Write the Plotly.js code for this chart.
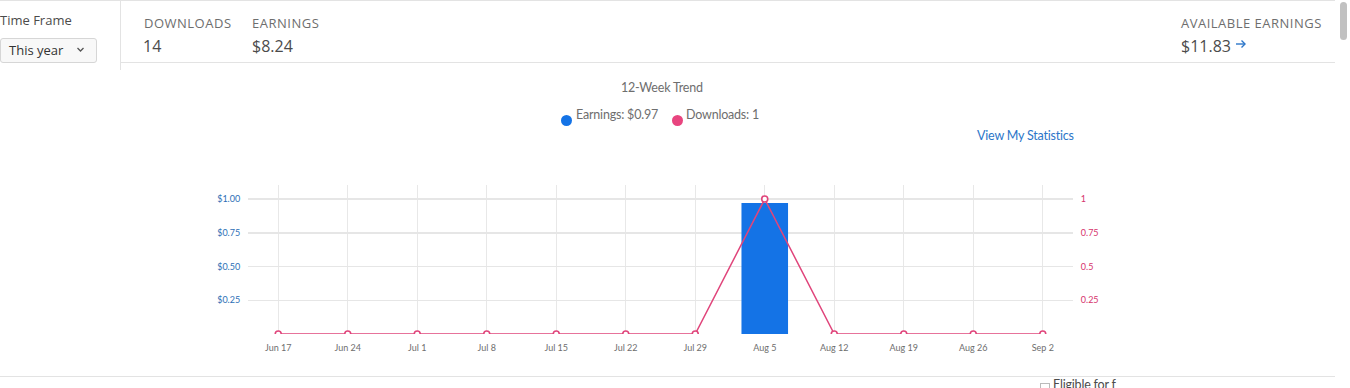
<!DOCTYPE html>
<html>
<head>
<meta charset="utf-8">
<script src="https://cdn.plot.ly/plotly-3.0.1.min.js"></script>
<style>
  html,body{margin:0;padding:0;background:#fff;width:1350px;height:388px;overflow:hidden;font-family:"Open Sans",sans-serif;}
  .abs{position:absolute;white-space:nowrap;}
  .hdr{font-size:13px;color:#6e6e6e;letter-spacing:0.5px;}
  .val{font-size:16px;color:#4b4b4b;}
  .lbl{font-family:Lato,sans-serif;font-size:12.5px;letter-spacing:-0.2px;}
</style>
</head>
<body>
<div class="abs" style="left:0;top:0;width:1335px;height:1px;background:#e3e3e3;"></div>
<div class="abs" style="left:120px;top:0;width:1px;height:70px;background:#e3e3e3;"></div>
<div class="abs" style="left:120px;top:62px;width:1215px;height:1px;background:#e3e3e3;"></div>
<div class="abs" style="left:0;top:376px;width:1335px;height:1px;background:#e3e3e3;"></div>

<div class="abs" style="left:0;top:11px;font-size:13px;color:#4b4b4b;">Time Frame</div>
<div class="abs" style="left:0;top:38px;width:95px;height:23px;border:1px solid #d6d6d6;border-radius:3px;background:#f8f8f8;box-sizing:content-box;"></div>
<div class="abs" style="left:9px;top:41px;font-size:13px;color:#333;">This year</div>
<svg class="abs" style="left:76px;top:46px;" width="10" height="8"><polyline points="1.5,2 4.5,5 7.5,2" fill="none" stroke="#555" stroke-width="1.3"/></svg>

<div class="abs hdr" style="left:144px;top:14px;">DOWNLOADS</div>
<div class="abs val" style="left:143px;top:35px;">14</div>
<div class="abs hdr" style="left:252px;top:14px;">EARNINGS</div>
<div class="abs val" style="left:252px;top:35px;">$8.24</div>
<div class="abs hdr" style="left:1181px;top:14px;">AVAILABLE EARNINGS</div>
<div class="abs val" style="left:1181px;top:35px;">$11.83</div>
<svg class="abs" style="left:1235px;top:39px;" width="12" height="10"><line x1="1" y1="5" x2="10" y2="5" stroke="#2c76c9" stroke-width="1.4"/><polyline points="6.5,1.5 10,5 6.5,8.5" fill="none" stroke="#2c76c9" stroke-width="1.4"/></svg>

<div class="abs" style="left:1336px;top:0;width:14px;height:388px;background:#fff;"></div>
<div class="abs" style="left:1340px;top:2px;width:7px;height:38px;background:#c1c1c1;border-radius:4px;"></div>

<div class="abs lbl" style="left:621px;top:80px;color:#6e6e6e;">12-Week Trend</div>
<div class="abs" style="left:561px;top:115px;width:11px;height:11px;border-radius:50%;background:#1473e6;"></div>
<div class="abs lbl" style="left:576px;top:107px;color:#6e6e6e;">Earnings: $0.97</div>
<div class="abs" style="left:672px;top:115px;width:11px;height:11px;border-radius:50%;background:#e8457f;"></div>
<div class="abs lbl" style="left:686px;top:107px;color:#6e6e6e;">Downloads: 1</div>
<div class="abs lbl" style="left:977px;top:128px;color:#2c76c9;">View My Statistics</div>

<div class="abs" style="left:1040px;top:383px;width:8px;height:8px;border:1px solid #bbb;"></div>
<div class="abs lbl" style="left:1053px;top:377px;color:#4b4b4b;">Eligible for f</div>

<div id="chart" class="abs" style="left:148px;top:151px;width:1030px;height:220px;"></div>

<script>
const weeks = ['Jun 17','Jun 24','Jul 1','Jul 8','Jul 15','Jul 22','Jul 29','Aug 5','Aug 12','Aug 19','Aug 26','Sep 2'];
const earnings = [0,0,0,0,0,0,0,0.97,0,0,0,0];
const downloads = [0,0,0,0,0,0,0,1,0,0,0,0];
const earnTicks = [0,0.25,0.5,0.75,1];
const earnTickText = ['','$0.25','$0.50','$0.75','$1.00'];
const dlTicks = [0.25,0.5,0.75,1];
const dlTickText = ['0.25','0.5','0.75','1'];

const xIdx = weeks.map((w,i)=>i);

const traces = [
  {type:'bar', x:xIdx, y:earnings, marker:{color:'#1473e6'}, width:0.67, yaxis:'y', hoverinfo:'skip'},
  {type:'scatter', mode:'lines+markers', x:xIdx, y:downloads, yaxis:'y2',
   line:{color:'#e0457b', width:1.5},
   marker:{symbol:'circle', size:6, color:'#ffffff', line:{color:'#e0457b', width:1.6}}, hoverinfo:'skip'}
];

const layout = {
  width:1030, height:220,
  margin:{l:100, r:105, t:34, b:37},
  paper_bgcolor:'rgba(0,0,0,0)', plot_bgcolor:'rgba(0,0,0,0)',
  showlegend:false,
  font:{family:'Lato, sans-serif', size:9},
  xaxis:{range:[-0.435, 11.435], tickvals:xIdx, ticktext:weeks, showgrid:true, gridcolor:'#e8e8e8', gridwidth:1,
         zeroline:false, showline:false, ticks:'outside', ticklen:5, tickcolor:'rgba(0,0,0,0)',
         tickfont:{color:'#6e6e6e', size:9, family:'Lato, sans-serif'}},
  yaxis:{range:[0,1.104], tickvals:earnTicks, ticktext:earnTickText, showgrid:true, gridcolor:'#e6e6e6', gridwidth:1.5,
         zeroline:false, showline:false, ticks:'outside', ticklen:5, tickcolor:'rgba(0,0,0,0)',
         tickfont:{color:'#2d6fb6', size:9, family:'Lato, sans-serif'}},
  yaxis2:{range:[0,1.104], overlaying:'y', side:'right', tickvals:dlTicks, ticktext:dlTickText, showgrid:false,
         zeroline:false, showline:false, ticks:'outside', ticklen:5, tickcolor:'rgba(0,0,0,0)',
         tickfont:{color:'#d6336c', size:9, family:'Lato, sans-serif'}}
};

Plotly.newPlot('chart', traces, layout, {displayModeBar:false, staticPlot:true});
</script>
</body>
</html>
